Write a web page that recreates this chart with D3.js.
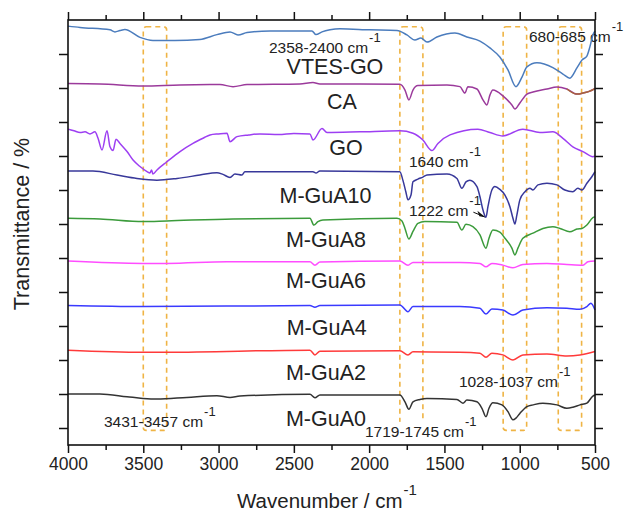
<!DOCTYPE html>
<html>
<head>
<meta charset="utf-8">
<script src="https://cdn.jsdelivr.net/npm/d3@7"></script>
<style>
  body { margin: 0; background: #fff; }
  text { font-family: 'Liberation Sans', Arial, sans-serif; fill: #222; }
</style>
</head>
<body>
<svg id="chart" width="625" height="519"></svg>
<script>
// spectra, [wavenumber, transmittance (offset, a.u.)]
const vtesGO = [[4000, 123.2], [3920, 122.8], [3721, 122.1], [3688, 121.5], [3655, 121.9], [3622, 122.2], [3522, 119.9], [3436, 119.0], [3290, 119.0], [3124, 119.3], [3011, 120.7], [2924, 121.5], [2871, 120.6], [2811, 121.3], [2659, 121.8], [2380, 121.8], [2353, 120.7], [2313, 121.5], [2260, 122.1], [2194, 122.4], [1995, 122.1], [1815, 121.9], [1749, 120.6], [1696, 119.1], [1656, 119.7], [1616, 118.5], [1550, 120.0], [1430, 121.2], [1351, 120.0], [1264, 118.8], [1198, 116.8], [1132, 114.1], [1078, 110.3], [1025, 105.4], [985, 108.2], [952, 111.2], [886, 112.4], [780, 111.0], [713, 109.1], [667, 107.9], [620, 110.9], [587, 113.2], [554, 114.4], [534, 117.1], [514, 120.6], [500, 121.8]];
const ca = [[4000, 106.3], [3788, 106.2], [3502, 105.6], [3256, 105.9], [2991, 106.0], [2904, 105.4], [2811, 106.0], [2460, 106.2], [2373, 106.6], [2327, 106.2], [1796, 106.1], [1762, 104.4], [1736, 101.5], [1709, 104.4], [1676, 105.7], [1483, 105.9], [1397, 105.4], [1364, 103.5], [1344, 105.4], [1284, 104.7], [1244, 101.5], [1218, 100.0], [1198, 102.9], [1178, 104.4], [1112, 102.7], [1052, 100.0], [1032, 98.8], [999, 100.6], [952, 103.2], [912, 103.8], [819, 104.7], [753, 105.3], [687, 104.7], [620, 103.2], [580, 103.5], [507, 104.7], [500, 104.9]];
const go = [[4000, 92.9], [3960, 92.4], [3920, 91.9], [3887, 92.1], [3854, 91.5], [3821, 92.1], [3801, 90.3], [3774, 86.8], [3741, 92.4], [3721, 87.7], [3701, 86.6], [3681, 89.9], [3655, 88.7], [3608, 86.3], [3568, 83.8], [3522, 81.9], [3475, 80.4], [3456, 80.0], [3445, 80.9], [3436, 79.7], [3409, 80.9], [3343, 83.3], [3256, 86.3], [3170, 88.7], [3100, 90.3], [3057, 91.2], [3000, 91.5], [2944, 91.7], [2924, 89.2], [2878, 90.7], [2800, 91.2], [2725, 91.5], [2600, 91.3], [2500, 91.6], [2393, 91.5], [2373, 89.7], [2313, 93.1], [2280, 91.9], [2061, 92.1], [1796, 92.4], [1709, 91.7], [1643, 89.7], [1583, 86.6], [1543, 88.7], [1463, 91.2], [1278, 92.9], [1198, 91.9], [1112, 90.9], [979, 92.9], [866, 91.9], [780, 92.1], [713, 90.2], [647, 87.7], [580, 86.3], [514, 84.8], [500, 85.0]];
const guA10 = [[4000, 80.6], [3834, 80.6], [3675, 79.4], [3542, 78.4], [3409, 77.9], [3276, 78.4], [3124, 79.4], [3011, 80.1], [2971, 79.6], [2924, 78.7], [2891, 79.7], [2845, 79.4], [2825, 80.4], [2373, 80.4], [2353, 80.0], [2327, 80.6], [1796, 80.4], [1776, 77.9], [1756, 74.4], [1742, 72.1], [1722, 73.5], [1709, 77.4], [1676, 78.2], [1643, 78.8], [1616, 79.4], [1483, 79.7], [1417, 78.4], [1384, 75.5], [1357, 77.4], [1331, 77.9], [1284, 76.0], [1264, 73.0], [1244, 69.1], [1224, 67.0], [1211, 70.1], [1185, 75.0], [1165, 76.0], [1132, 75.2], [1098, 73.5], [1065, 70.1], [1045, 66.7], [1032, 65.0], [1019, 67.6], [999, 72.1], [965, 74.5], [932, 75.5], [912, 75.0], [879, 76.5], [819, 77.0], [753, 76.5], [700, 75.0], [647, 74.5], [614, 75.5], [587, 75.0], [554, 77.0], [521, 78.9], [500, 80.4]];
const guA8 = [[4000, 66.7], [3788, 66.5], [3502, 65.7], [3343, 65.9], [2904, 66.5], [2393, 66.7], [2367, 64.7], [2340, 65.7], [2307, 66.2], [1815, 66.7], [1782, 65.9], [1762, 63.7], [1736, 60.6], [1709, 62.8], [1676, 65.2], [1630, 65.7], [1417, 65.5], [1384, 63.2], [1357, 64.9], [1311, 64.2], [1264, 61.8], [1224, 57.9], [1204, 60.8], [1178, 63.2], [1132, 62.6], [1098, 60.8], [1052, 57.9], [1032, 55.9], [1012, 57.9], [979, 60.8], [912, 62.3], [846, 63.7], [780, 64.2], [733, 63.7], [667, 62.7], [620, 63.5], [587, 63.7], [554, 64.7], [514, 66.9], [500, 67.1]];
const guA6 = [[4000, 54.1], [3502, 53.4], [3343, 53.4], [2944, 53.9], [2393, 53.9], [2360, 52.9], [2327, 53.8], [1796, 54.1], [1742, 52.9], [1709, 53.7], [1397, 53.7], [1264, 53.4], [1224, 52.4], [1185, 53.4], [1112, 52.9], [1045, 52.1], [979, 53.1], [819, 53.4], [687, 53.1], [580, 52.9], [547, 53.9], [500, 54.1]];
const guA4 = [[4000, 41.0], [3502, 40.7], [2393, 41.0], [2360, 40.5], [2327, 41.0], [1796, 41.2], [1742, 39.2], [1709, 40.7], [1397, 40.7], [1264, 40.2], [1224, 38.5], [1185, 40.0], [1112, 39.7], [1045, 38.2], [979, 39.7], [819, 40.4], [687, 40.2], [600, 39.9], [554, 40.7], [527, 41.7], [500, 39.7]];
const guA2 = [[4000, 27.9], [3502, 27.3], [3343, 27.3], [2393, 27.9], [2360, 26.5], [2327, 27.6], [1796, 27.7], [1742, 26.5], [1709, 27.4], [1397, 27.3], [1264, 27.0], [1224, 25.8], [1185, 27.0], [1112, 26.5], [1045, 25.0], [979, 26.5], [819, 26.8], [687, 26.2], [600, 26.5], [500, 27.5]];
const guA0 = [[4000, 15.0], [3788, 15.0], [3608, 14.2], [3502, 13.7], [3409, 13.5], [3210, 14.0], [3011, 14.5], [2924, 14.0], [2858, 14.4], [2393, 14.9], [2360, 13.9], [2327, 14.7], [1796, 14.7], [1762, 12.7], [1736, 10.5], [1709, 12.7], [1663, 13.4], [1616, 13.7], [1417, 13.4], [1377, 12.3], [1351, 13.2], [1284, 12.7], [1251, 10.8], [1224, 8.3], [1204, 10.8], [1178, 12.4], [1118, 11.8], [1078, 9.8], [1045, 7.4], [1025, 7.9], [999, 9.3], [952, 11.3], [912, 11.8], [846, 12.3], [753, 11.8], [687, 10.8], [647, 11.1], [600, 11.8], [554, 12.3], [514, 14.4], [500, 14.7]];

const seriesNames = ['VTES-GO', 'CA', 'GO', 'M-GuA10', 'M-GuA8', 'M-GuA6', 'M-GuA4', 'M-GuA2', 'M-GuA0'];
const seriesData = [vtesGO, ca, go, guA10, guA8, guA6, guA4, guA2, guA0];
const seriesColors = ['#4b7cbd', '#9b3a9b', '#9d3ff2', '#38389a', '#3b9b3b', '#ff4cff', '#3a3aff', '#ff3a3a', '#333333'];
// label anchor: [wavenumber, value]
const labelPos = [[2227, 109.1], [2181, 98.8], [2154, 85.3], [2290, 71.2], [2287, 58.2], [2287, 46.2], [2282, 32.4], [2287, 19.1], [2287, 5.6]];

const xTicks = [4000, 3500, 3000, 2500, 2000, 1500, 1000, 500];
const xMinorTicks = [3750, 3250, 2750, 2250, 1750, 1250, 750];
const yTicks = [5, 15, 25, 35, 45, 55, 65, 75, 85, 95, 105, 115];

// highlighted bands [from, to] wavenumber
const bands = [[3500, 3345], [1796, 1643], [1110, 954], [744, 589]];
const bandTop = 123;
const bandBottom = 4.3;

// annotations: text, wavenumber (start), value (baseline)
const notes = [
  { text: '2358-2400 cm', w: 2665, v: 115.3 },
  { text: '680-685 cm', w: 939, v: 118.5 },
  { text: '1640 cm', w: 1736, v: 81.8 },
  { text: '1222 cm', w: 1736, v: 67.4 },
  { text: '1028-1037 cm', w: 1404, v: 17.1 },
  { text: '3431-3457 cm', w: 3761, v: 5.3 },
  { text: '1719-1745 cm', w: 2028, v: 2.4, bg: true }
];

const svg = d3.select('#chart');
const margin = { left: 68, right: 30, top: 20, bottom: 74 };
const width = 625 - margin.left - margin.right;
const height = 519 - margin.top - margin.bottom;

const x = d3.scaleLinear().domain([4000, 500]).range([0, width]);
const y = d3.scaleLinear().domain([0, 125]).range([height, 0]);

const g = svg.append('g').attr('transform', `translate(${margin.left},${margin.top})`);

// dashed bands
g.selectAll('.band')
  .data(bands)
  .enter().append('rect')
  .classed('band', true)
  .attr('x', d => x(d[0]))
  .attr('y', y(bandTop))
  .attr('width', d => x(d[1]) - x(d[0]))
  .attr('height', y(bandBottom) - y(bandTop))
  .attr('rx', 3)
  .style('fill', 'none')
  .style('stroke', '#efb445')
  .style('stroke-width', 1.6)
  .style('stroke-dasharray', '5,4');

// annotation texts
const noteSel = g.selectAll('.note')
  .data(notes)
  .enter().append('g')
  .classed('note', true);

noteSel.append('text')
  .attr('x', d => x(d.w))
  .attr('y', d => y(d.v))
  .style('font-size', '15.5px')
  .text(d => d.text)
  .append('tspan')
  .attr('dy', -11)
  .attr('dx', 1)
  .style('font-size', '13px')
  .text('-1');

noteSel.filter(d => d.bg).each(function () {
  const t = d3.select(this).select('text');
  const bb = t.node().getBBox();
  d3.select(this).insert('rect', 'text')
    .attr('x', bb.x - 1)
    .attr('y', bb.y + 8)
    .attr('width', bb.width + 2)
    .attr('height', bb.height - 6)
    .style('fill', '#fff');
});

// arrow for 1222
const arrowTip = [x(1228), y(67.0)];
g.append('path')
  .attr('d', `M${arrowTip[0] - 12},${arrowTip[1] - 5}L${arrowTip[0]},${arrowTip[1]}`)
  .style('stroke', '#111')
  .style('stroke-width', 1);
g.append('path')
  .attr('d', `M${arrowTip[0]},${arrowTip[1]}L${arrowTip[0] - 8},${arrowTip[1] - 6.5}L${arrowTip[0] - 6},${arrowTip[1] - 1}Z`)
  .style('fill', '#111');

// spectra
const line = d3.line()
  .x(d => x(d[0]))
  .y(d => y(d[1]))
  .curve(d3.curveMonotoneX);

g.selectAll('.spectrum')
  .data(seriesData)
  .enter().append('path')
  .classed('spectrum', true)
  .attr('d', d => line(d.slice().reverse()))
  .style('fill', 'none')
  .style('stroke', (d, i) => seriesColors[i])
  .style('stroke-width', 1.5);

// brownish tail on CA
g.append('path')
  .attr('d', line(ca.filter(d => d[0] <= 690).reverse()))
  .style('fill', 'none')
  .style('stroke', '#a9653a')
  .style('stroke-width', 1.5);

// series labels
g.selectAll('.label')
  .data(seriesNames)
  .enter().append('text')
  .classed('label', true)
  .attr('x', (d, i) => x(labelPos[i][0]))
  .attr('y', (d, i) => y(labelPos[i][1]))
  .style('text-anchor', 'middle')
  .style('font-size', '21.5px')
  .text(d => d);

// frame
g.append('rect')
  .attr('width', width)
  .attr('height', height)
  .style('fill', 'none')
  .style('stroke', '#111')
  .style('stroke-width', 1.6);

function styleAxis (sel) {
  sel.select('.domain').remove();
  sel.selectAll('line').style('stroke', '#111').style('stroke-width', 1.5);
}

g.append('g')
  .attr('transform', `translate(0,${height})`)
  .call(d3.axisBottom(x).tickValues(xTicks).tickSize(8).tickPadding(5).tickFormat(d3.format('d')))
  .call(styleAxis)
  .selectAll('text')
  .style('font-size', '17.5px')
  .style('font-family', "'Liberation Sans', Arial, sans-serif")
  .style('fill', '#222');
g.append('g')
  .attr('transform', `translate(0,${height})`)
  .call(d3.axisBottom(x).tickValues(xMinorTicks).tickSize(5).tickFormat(''))
  .call(styleAxis);
g.append('g')
  .call(d3.axisTop(x).tickValues(xTicks).tickSize(8).tickFormat(''))
  .call(styleAxis);
g.append('g')
  .call(d3.axisTop(x).tickValues(xMinorTicks).tickSize(5).tickFormat(''))
  .call(styleAxis);
g.append('g')
  .call(d3.axisLeft(y).tickValues(yTicks).tickSize(9).tickFormat(''))
  .call(styleAxis);
g.append('g')
  .attr('transform', `translate(${width},0)`)
  .call(d3.axisRight(y).tickValues(yTicks).tickSize(8).tickFormat(''))
  .call(styleAxis);

// axis titles
const xTitle = svg.append('text')
  .attr('x', 237)
  .attr('y', 508)
  .style('font-size', '20.5px')
  .text('Wavenumber / cm');
xTitle.append('tspan')
  .attr('dy', -13)
  .attr('dx', 1)
  .style('font-size', '15px')
  .text('-1');

svg.append('text')
  .attr('transform', 'translate(29,224) rotate(-90)')
  .style('text-anchor', 'middle')
  .style('font-size', '21.5px')
  .text('Transmittance / %');
</script>
</body>
</html>
